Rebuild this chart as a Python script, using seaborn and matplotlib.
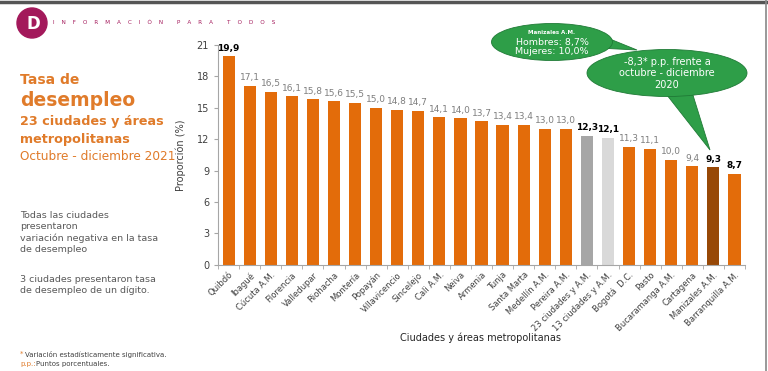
import matplotlib
matplotlib.use('Agg')
import matplotlib.pyplot as plt
import seaborn as sns
from matplotlib.patches import Ellipse, Polygon
from matplotlib.lines import Line2D

# Data
cities = ['Quibdó', 'Ibagué', 'Cúcuta A.M.', 'Florencia', 'Valledupar', 'Riohacha',
          'Montería', 'Popayán', 'Villavicencio', 'Sincelejo', 'Cali A.M.', 'Neiva',
          'Armenia', 'Tunja', 'Santa Marta', 'Medellín A.M.', 'Pereira A.M.',
          '23 ciudades y A.M.', '13 ciudades y A.M.', 'Bogotá  D.C.', 'Pasto',
          'Bucaramanga A.M.', 'Cartagena', 'Manizales A.M.', 'Barranquilla A.M.']
rates = [19.9, 17.1, 16.5, 16.1, 15.8, 15.6, 15.5, 15.0, 14.8, 14.7, 14.1, 14.0,
         13.7, 13.4, 13.4, 13.0, 13.0, 12.3, 12.1, 11.3, 11.1, 10.0, 9.4, 9.3, 8.7]
bold_labels = ['Quibdó', '23 ciudades y A.M.', '13 ciudades y A.M.',
               'Manizales A.M.', 'Barranquilla A.M.']

orange = '#E36C0A'
special = {'23 ciudades y A.M.': '#A6A6A6', '13 ciudades y A.M.': '#D9D9D9',
           'Manizales A.M.': '#974806'}
palette = {c: special.get(c, orange) for c in cities}

fig = plt.figure(figsize=(7.68, 3.71), dpi=100)
ax = fig.add_axes([0.284, 0.286, 0.686, 0.593])

sns.barplot(x=cities, y=rates, hue=cities, palette=palette, legend=False,
            width=0.58, saturation=1, ax=ax)

for i, (c, v) in enumerate(zip(cities, rates)):
    lab = f'{v:.1f}'.replace('.', ',')
    if c in bold_labels:
        ax.text(i, v + 0.35, lab, ha='center', va='bottom', fontsize=6.5,
                fontweight='bold', color='black')
    else:
        ax.text(i, v + 0.35, lab, ha='center', va='bottom', fontsize=6.5,
                color='#7F7F7F')

ax.set_ylim(0, 21)
ax.set_yticks(range(0, 22, 3))
ax.set_xlim(-0.4, len(cities) - 0.5)
ax.set_xticks(range(len(cities)))
ax.set_xticklabels(cities, rotation=45, ha='right', rotation_mode='anchor',
                   fontsize=6, color='#404040')
ax.set_xticks([i + 0.5 for i in range(-1, len(cities))], minor=True)
ax.tick_params(axis='x', which='major', length=0, pad=4)
ax.tick_params(axis='x', which='minor', length=3, color='#A6A6A6')
ax.tick_params(axis='y', labelsize=7, colors='#404040', length=3)
ax.tick_params(axis='y', color='#A6A6A6')
for s in ['top', 'right']:
    ax.spines[s].set_visible(False)
for s in ['left', 'bottom']:
    ax.spines[s].set_color('#A6A6A6')
ax.set_ylabel('Proporción (%)', fontsize=7, color='#404040', labelpad=8)
ax.set_xlabel('')
fig.text(0.625, 1 - 338 / 371, 'Ciudades y áreas metropolitanas', ha='center',
         va='center', fontsize=7, color='#262626')


def px(x, y):
    return (x / 768, 1 - y / 371)


# Header
fig.add_artist(Ellipse(px(32, 23), 30 / 768, 30 / 371, transform=fig.transFigure,
                       color='#A3195B', zorder=5))
fig.text(*px(33, 24), 'D', ha='center', va='center', fontsize=12,
         fontweight='bold', color='white', zorder=6)
fig.text(*px(53, 23), '    '.join('INFORMACIÓN') + '        ' +
         '    '.join('PARA') + '        ' + '    '.join('TODOS'),
         ha='left', va='center', fontsize=4.1, color='#A3195B')
fig.add_artist(Line2D([0, 1], [0.995, 0.995], transform=fig.transFigure,
                      color='#555555', lw=2.5))
fig.add_artist(Line2D([0.997, 0.997], [0, 1], transform=fig.transFigure,
                      color='#888888', lw=1.2))

# Title block
tcol = '#E07B2A'
fig.text(*px(20, 80), 'Tasa de', fontsize=10, fontweight='bold',
         color=tcol, va='center')
fig.text(*px(20, 100), 'desempleo', fontsize=13.5, fontweight='bold',
         color=tcol, va='center')
fig.text(*px(20, 121), '23 ciudades y áreas', fontsize=9.2,
         fontweight='bold', color=tcol, va='center')
fig.text(*px(20, 139), 'metropolitanas', fontsize=9.2,
         fontweight='bold', color=tcol, va='center')
fig.text(*px(20, 157), 'Octubre - diciembre 2021', fontsize=8.7,
         color=tcol, va='center')

# Notes
fig.text(*px(20, 211),
         'Todas las ciudades\npresentaron\nvariación negativa en la tasa\nde desempleo',
         fontsize=6.8, color='#595959', va='top', linespacing=1.3)
fig.text(*px(20, 275),
         '3 ciudades presentaron tasa\nde desempleo de un dígito.',
         fontsize=6.8, color='#595959', va='top', linespacing=1.3)
fig.text(*px(20, 354), '*', fontsize=5, color=tcol, va='center')
fig.text(*px(25, 354), 'Variación estadísticamente significativa.',
         fontsize=5, color='#404040', va='center')
fig.text(*px(20, 364), 'p.p.:', fontsize=5, color=tcol, va='center')
fig.text(*px(36, 364), 'Puntos porcentuales.', fontsize=5,
         color='#404040', va='center')

# Callouts
green = '#2E9E48'
edge = '#1F7A36'

fig.add_artist(Polygon([px(600, 35), px(637, 50), px(598, 48)], closed=True,
                       transform=fig.transFigure, fc=green, ec=edge, lw=0.6, zorder=4))
fig.add_artist(Ellipse(px(552, 42), 121 / 768, 37 / 371, transform=fig.transFigure,
                       fc=green, ec=edge, lw=0.6, zorder=5))
fig.text(*px(552, 32), 'Manizales A.M.', fontsize=4, fontweight='bold',
         color='white', ha='center', va='center', zorder=6)
fig.text(*px(552, 42), 'Hombres: 8,7%', fontsize=6.8, color='white',
         ha='center', va='center', zorder=6)
fig.text(*px(552, 52), 'Mujeres: 10,0%', fontsize=6.8, color='white',
         ha='center', va='center', zorder=6)

fig.add_artist(Polygon([px(663, 90), px(710, 150), px(692, 92)], closed=True,
                       transform=fig.transFigure, fc=green, ec=edge, lw=0.6, zorder=4))
fig.add_artist(Ellipse(px(667, 73), 160 / 768, 47 / 371, transform=fig.transFigure,
                       fc=green, ec=edge, lw=0.6, zorder=5))
fig.text(*px(667, 62), '-8,3* p.p. frente a', fontsize=7, color='white',
         ha='center', va='center', zorder=6)
fig.text(*px(667, 73), 'octubre - diciembre', fontsize=7, color='white',
         ha='center', va='center', zorder=6)
fig.text(*px(667, 85), '2020', fontsize=7, color='white',
         ha='center', va='center', zorder=6)

fig.savefig('out.png', dpi=100)
